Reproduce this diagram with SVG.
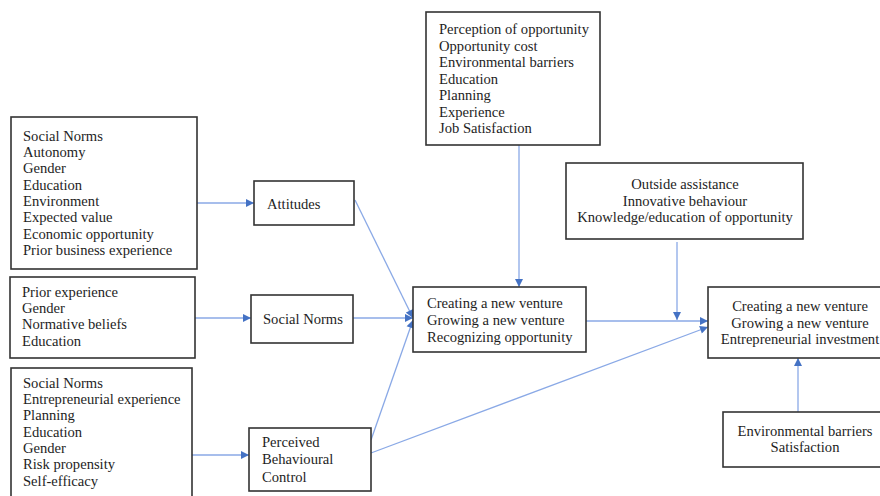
<svg xmlns="http://www.w3.org/2000/svg" width="880" height="496" viewBox="0 0 880 496">
  <style>
    .box { fill: #ffffff; stroke: #333333; stroke-width: 1.6; }
    .t { font-family: "Liberation Serif", "Times New Roman", serif; font-size: 14.6px; fill: #1e1e1e; }
    .c { text-anchor: middle; }
    .edge { fill: none; stroke: #8aa9e6; stroke-width: 1.3; }
  </style>
  <defs>
    <marker id="arrow" viewBox="0 0 10 10" refX="10" refY="5" markerWidth="10" markerHeight="8" markerUnits="userSpaceOnUse" orient="auto">
      <path d="M0,0 L10,5 L0,10 Z" fill="#4472c4"/>
    </marker>
  </defs>
  <rect width="880" height="496" fill="#ffffff"/>

  <!-- connectors -->
  <g id="connectors">
    <line class="edge" x1="197" y1="203" x2="254" y2="203" marker-end="url(#arrow)"/>
    <line class="edge" x1="195" y1="318" x2="251" y2="318" marker-end="url(#arrow)"/>
    <line class="edge" x1="192" y1="455" x2="249" y2="455" marker-end="url(#arrow)"/>
    <line class="edge" x1="355" y1="200" x2="413" y2="318" marker-end="url(#arrow)"/>
    <line class="edge" x1="353" y1="318" x2="413" y2="318" marker-end="url(#arrow)"/>
    <line class="edge" x1="371" y1="440" x2="413" y2="320" marker-end="url(#arrow)"/>
    <line class="edge" x1="519" y1="145" x2="519" y2="287" marker-end="url(#arrow)"/>
    <line class="edge" x1="586" y1="321" x2="708" y2="321" marker-end="url(#arrow)"/>
    <line class="edge" x1="677" y1="242" x2="677" y2="320" marker-end="url(#arrow)"/>
    <line class="edge" x1="371" y1="453" x2="708" y2="327" marker-end="url(#arrow)"/>
    <line class="edge" x1="798" y1="412" x2="798" y2="358" marker-end="url(#arrow)"/>
  </g>

  <!-- attitude antecedents -->
  <g id="n-attitude-factors">
    <rect class="box" x="11" y="117" width="186" height="152"/>
    <text class="t" x="23" y="141">Social Norms</text>
    <text class="t" x="23" y="157">Autonomy</text>
    <text class="t" x="23" y="173">Gender</text>
    <text class="t" x="23" y="190">Education</text>
    <text class="t" x="23" y="206">Environment</text>
    <text class="t" x="23" y="222">Expected value</text>
    <text class="t" x="23" y="239">Economic opportunity</text>
    <text class="t" x="23" y="255">Prior business experience</text>
  </g>

  <g id="n-attitudes">
    <rect class="box" x="254" y="181" width="100" height="44"/>
    <text class="t" x="267" y="209">Attitudes</text>
  </g>

  <!-- social norm antecedents -->
  <g id="n-norm-factors">
    <rect class="box" x="10" y="277" width="185" height="81"/>
    <text class="t" x="22" y="297">Prior experience</text>
    <text class="t" x="22" y="313">Gender</text>
    <text class="t" x="22" y="329">Normative beliefs</text>
    <text class="t" x="22" y="346">Education</text>
  </g>

  <g id="n-social-norms">
    <rect class="box" x="251" y="295" width="102" height="48"/>
    <text class="t" x="263" y="324">Social Norms</text>
  </g>

  <!-- behavioural control antecedents -->
  <g id="n-control-factors">
    <rect class="box" x="11" y="368" width="181" height="140"/>
    <text class="t" x="23" y="388">Social Norms</text>
    <text class="t" x="23" y="404">Entrepreneurial experience</text>
    <text class="t" x="23" y="420">Planning</text>
    <text class="t" x="23" y="437">Education</text>
    <text class="t" x="23" y="453">Gender</text>
    <text class="t" x="23" y="469">Risk propensity</text>
    <text class="t" x="23" y="486">Self-efficacy</text>
  </g>

  <g id="n-pbc">
    <rect class="box" x="249" y="428" width="122" height="63"/>
    <text class="t" x="262" y="447">Perceived</text>
    <text class="t" x="262" y="464">Behavioural</text>
    <text class="t" x="262" y="482">Control</text>
  </g>

  <!-- opportunity factors -->
  <g id="n-opportunity-factors">
    <rect class="box" x="426" y="12" width="174" height="133"/>
    <text class="t" x="439" y="34">Perception of opportunity</text>
    <text class="t" x="439" y="51">Opportunity cost</text>
    <text class="t" x="439" y="67">Environmental barriers</text>
    <text class="t" x="439" y="84">Education</text>
    <text class="t" x="439" y="100">Planning</text>
    <text class="t" x="439" y="117">Experience</text>
    <text class="t" x="439" y="133">Job Satisfaction</text>
  </g>

  <g id="n-intention">
    <rect class="box" x="413" y="287" width="173" height="65"/>
    <text class="t" x="427" y="308">Creating a new venture</text>
    <text class="t" x="427" y="325">Growing a new venture</text>
    <text class="t" x="427" y="342">Recognizing opportunity</text>
  </g>

  <g id="n-support-factors">
    <rect class="box" x="566" y="163" width="237" height="76"/>
    <text class="t c" x="685" y="189">Outside assistance</text>
    <text class="t c" x="685" y="206">Innovative behaviour</text>
    <text class="t c" x="685" y="222">Knowledge/education of opportunity</text>
  </g>

  <g id="n-behaviour">
    <rect class="box" x="708" y="287" width="182" height="71"/>
    <text class="t c" x="800" y="311">Creating a new venture</text>
    <text class="t c" x="800" y="328">Growing a new venture</text>
    <text class="t c" x="800" y="344">Entrepreneurial investment</text>
  </g>

  <g id="n-barriers">
    <rect class="box" x="723" y="412" width="167" height="55"/>
    <text class="t c" x="805" y="436">Environmental barriers</text>
    <text class="t c" x="805" y="452">Satisfaction</text>
  </g>
</svg>
